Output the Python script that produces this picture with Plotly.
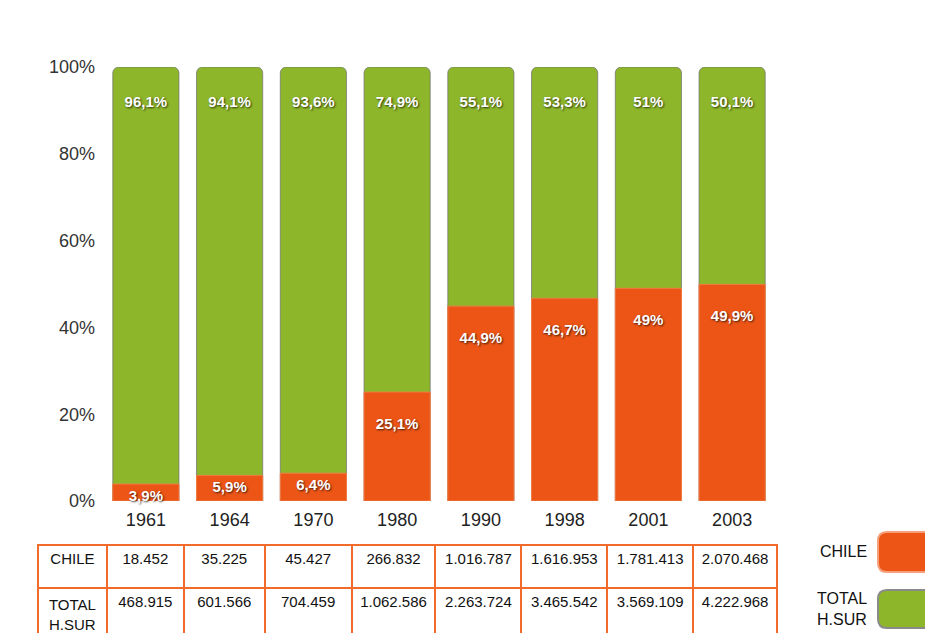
import plotly.graph_objects as go

years = ["1961", "1964", "1970", "1980", "1990", "1998", "2001", "2003"]
chile_pct = [3.9, 5.9, 6.4, 25.1, 44.9, 46.7, 49, 49.9]
total_pct = [96.1, 94.1, 93.6, 74.9, 55.1, 53.3, 51, 50.1]
chile_abs = ["18.452", "35.225", "45.427", "266.832", "1.016.787", "1.616.953", "1.781.413", "2.070.468"]
total_abs = ["468.915", "601.566", "704.459", "1.062.586", "2.263.724", "3.465.542", "3.569.109", "4.222.968"]
y_ticks = [0, 20, 40, 60, 80, 100]
y_tick_labels = ["0%", "20%", "40%", "60%", "80%", "100%"]
row_labels = ["CHILE", "TOTAL<br>H.SUR"]
legend_labels = ["CHILE", "TOTAL<br>H.SUR"]

ORANGE = "#EC5516"
GREEN = "#8DB62A"
W, H = 925, 633
FONT = "Arial, Liberation Sans, sans-serif"


def fmt(v):
    return f"{v:g}".replace(".", ",") + "%"


def px(x):
    return x / W


def py(y):
    return 1 - y / H


green_text = ["\u00a0<br>" + fmt(v) for v in total_pct]
orange_text = [("\u00a0<br>" if v >= 20 else "") + fmt(v) for v in chile_pct]
label_font = dict(family=FONT, size=15, color="white", weight="bold",
                  shadow="1px 1px 2px rgba(0,0,0,0.7)")

fig = go.Figure()
fig.add_trace(go.Bar(
    x=years, y=[c + t for c, t in zip(chile_pct, total_pct)],
    offsetgroup="g", cliponaxis=False,
    text=green_text, textposition="inside", insidetextanchor="end",
    constraintext="none", textfont=label_font,
    marker=dict(color=GREEN, cornerradius=6, line=dict(color="rgba(110,110,110,0.7)", width=1)),
    hoverinfo="skip", showlegend=False,
))
fig.add_trace(go.Bar(
    x=years, y=chile_pct,
    offsetgroup="g", cliponaxis=False,
    text=orange_text, textposition="inside", insidetextanchor="end",
    constraintext="none", textfont=label_font,
    marker=dict(color=ORANGE, cornerradius=6, line=dict(color="#F07A45", width=1)),
    hoverinfo="skip", showlegend=False,
))

fig.add_trace(go.Table(
    domain=dict(x=[px(38), px(778)], y=[0, py(545)]),
    columnwidth=[69, 77, 81, 87, 84, 86, 86, 86, 84],
    header=dict(
        values=[row_labels[0]] + chile_abs,
        fill_color="white", line=dict(color="#F26B2A", width=2),
        font=dict(family=FONT, size=15, color="#111"),
        align="center", height=43,
    ),
    cells=dict(
        values=[[row_labels[1]]] + [[v] for v in total_abs],
        fill_color="white", line=dict(color="#F26B2A", width=2),
        font=dict(family=FONT, size=15, color="#111"),
        align="center", height=46,
    ),
))


def rrect(x0, y0, x1, y1, r):
    X0, X1 = px(x0), px(x1)
    Y0, Y1 = py(y0), py(y1)
    rx, ry = r / W, r / H
    return (f"M {X0+rx} {Y0} L {X1-rx} {Y0} Q {X1} {Y0} {X1} {Y0-ry} "
            f"L {X1} {Y1+ry} Q {X1} {Y1} {X1-rx} {Y1} L {X0+rx} {Y1} "
            f"Q {X0} {Y1} {X0} {Y1+ry} L {X0} {Y0-ry} Q {X0} {Y0} {X0+rx} {Y0} Z")


shapes = [
    dict(type="path", xref="paper", yref="paper", path=rrect(878, 532, 940, 572, 9),
         fillcolor=ORANGE, line=dict(color="#F5A07A", width=2)),
    dict(type="path", xref="paper", yref="paper", path=rrect(878, 590, 940, 628, 9),
         fillcolor=GREEN, line=dict(color="#8a8a8a", width=2)),
]
annotations = [
    dict(x=px(869), y=py(551), xref="paper", yref="paper", text=legend_labels[0],
         showarrow=False, xanchor="right", yanchor="middle",
         font=dict(family=FONT, size=16, color="#111")),
    dict(x=px(869), y=py(609), xref="paper", yref="paper", text=legend_labels[1],
         showarrow=False, xanchor="right", yanchor="middle", align="left",
         font=dict(family=FONT, size=16, color="#111")),
]

fig.update_layout(
    width=W, height=H,
    margin=dict(l=0, r=0, t=0, b=0, autoexpand=False),
    paper_bgcolor="white", plot_bgcolor="white",
    barmode="group", bargap=0.21,
    shapes=shapes, annotations=annotations,
    font=dict(family=FONT),
    xaxis=dict(domain=[px(104), px(774)], showgrid=False, showline=False, zeroline=False,
               automargin=False, ticks="", tickfont=dict(size=18, color="#222"),
               ticklabelstandoff=6),
    yaxis=dict(domain=[py(501), py(67)], range=[0, 100], tickvals=y_ticks, ticktext=y_tick_labels,
               automargin=False, showgrid=False, showline=False, zeroline=False, ticks="",
               tickfont=dict(size=18, color="#333"), ticklabelstandoff=8),
)

fig.write_html("out.html", config={"displayModeBar": False},
               post_script="document.body.style.margin='0';document.body.style.overflow='hidden';")
